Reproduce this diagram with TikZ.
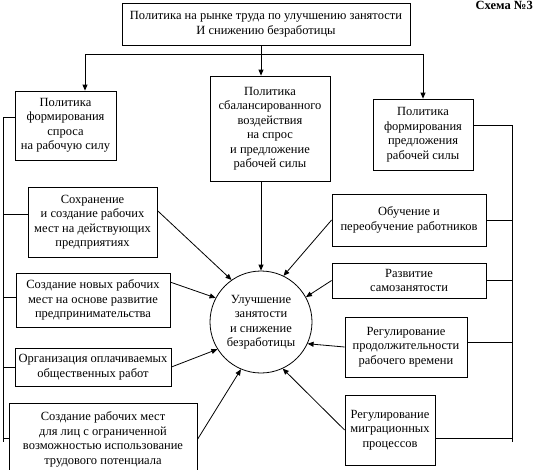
\documentclass[tikz,border=0pt]{standalone}
\usepackage{fontspec}
\setmainfont{Liberation Serif}
\usetikzlibrary{arrows.meta}
\tikzset{
  box/.style={draw, line width=0.8pt, align=center, inner sep=1pt,
    font=\fontsize{12.5}{14.5}\selectfont},
  link/.style={line width=0.8pt},
  >={Triangle[length=6pt,width=5pt]}
}
\begin{document}
\begin{tikzpicture}[x=1pt,y=-1pt]
  \useasboundingbox (0,0) rectangle (537,469);
  \node[font=\bfseries\fontsize{12.5}{14}\selectfont, anchor=north east, inner sep=0pt] (scheme) at (533,1) {Схема №3};

  % top level
  \node[box, minimum width=288pt, minimum height=42pt] (top) at (266,24)
    {Политика на рынке труда по улучшению занятости\\И снижению безработицы};
  \node[box, minimum width=101pt, minimum height=69pt] (lp) at (65.5,125.5)
    {Политика\\формирования\\спроса\\на рабочую силу};
  \node[box, minimum width=120pt, minimum height=105pt] (mp) at (270,128.5)
    {Политика\\сбалансированного\\воздействия\\на спрос\\и предложение\\рабочей силы};
  \node[box, minimum width=100pt, minimum height=71pt] (rp) at (423,134.5)
    {Политика\\формирования\\предложения\\рабочей силы};

  \node[box, circle, minimum size=102pt] (goal) at (261,322)
    {Улучшение\\занятости\\и снижение\\безработицы};

  % left measures
  \node[box, minimum width=129pt, minimum height=70pt] (L1) at (92.5,222)
    {Сохранение\\и создание рабочих\\мест на действующих\\предприятиях};
  \node[box, minimum width=154pt, minimum height=54pt] (L2) at (93,300)
    {Создание новых рабочих\\мест на основе развитие\\предпринимательства};
  \node[box, minimum width=156pt, minimum height=38pt] (L3) at (93,367)
    {Организация оплачиваемых\\общественных работ};
  \node[box, minimum width=188pt, minimum height=73pt] (L4) at (103,439.5)
    {Создание рабочих мест\\для лиц с ограниченной\\возможностью использование\\трудового потенциала};

  % right measures
  \node[box, minimum width=154pt, minimum height=52pt] (R1) at (409,220)
    {Обучение и\\переобучение работников};
  \node[box, minimum width=154pt, minimum height=35pt] (R2) at (409,280.5)
    {Развитие\\самозанятости};
  \node[box, minimum width=122pt, minimum height=60pt] (R3) at (406,347)
    {Регулирование\\продолжительности\\рабочего времени};
  \node[box, minimum width=90pt, minimum height=70pt] (R4) at (390,430)
    {Регулирование\\миграционных\\процессов};

  % branching from the top box
  \coordinate (hub) at (261,54);
  \coordinate (hubl) at (85,54);
  \coordinate (hubr) at (423,54);
  \draw[link] (top.south -| hub) -- (hub);
  \draw[link] (hubl) -- (hubr);
  \draw[link,->] (hubl) -- (hubl |- lp.north);
  \draw[link,->] (hub) -- (hub |- mp.north);
  \draw[link,->] (hubr) -- (hubr |- rp.north);
  \draw[link,->] (goal |- mp.south) -- (goal.north);

  % side buses
  \coordinate (busl) at (3,442);
  \coordinate (busr) at (512,442);
  \draw[link] ([yshift=8pt]lp.west) -| (busl);
  \draw[link] ([yshift=9pt]rp.east) -| (busr);
  \foreach \n/\s in {L1/8, L2/3, L3/0, L4/1}
    \draw[link] ([yshift=\s pt]\n.west) -| (busl);
  \foreach \n/\s in {R1/0, R2/0, R3/5, R4/-8}
    \draw[link] ([yshift=\s pt]\n.east) -| (busr);

  % measures to the goal
  \draw[link,->] (L1.10) -- (goal.125);
  \draw[link,->] (L2.13) -- (goal.152);
  \draw[link,->] (L3.east) -- (goal.212);
  \draw[link,->] (L4.east) -- (goal.247);
  \draw[link,->] (R1.west) -- (goal.64);
  \draw[link,->] (R2.west) -- (goal.29);
  \draw[link,->] (R3.west) -- (goal.335);
  \draw[link,->] (R4.west) -- (goal.295);
\end{tikzpicture}
\end{document}
